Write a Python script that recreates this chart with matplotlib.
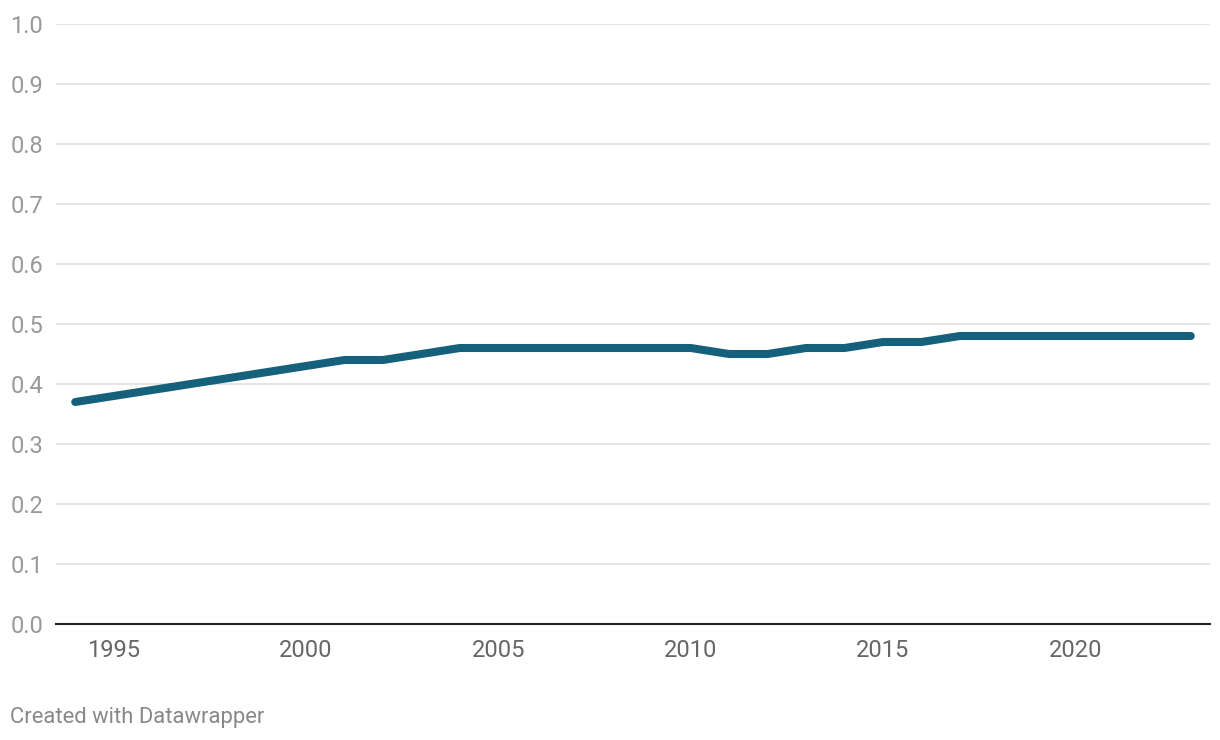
import matplotlib.pyplot as plt
import numpy as np

# Datawrapper-style line chart, one series
years = list(range(1994, 2024))
values = [0.37, 0.38, 0.39, 0.40, 0.41, 0.42, 0.43, 0.44, 0.44, 0.45,
          0.46, 0.46, 0.46, 0.46, 0.46, 0.46, 0.46, 0.45, 0.45, 0.46,
          0.46, 0.47, 0.47, 0.48, 0.48, 0.48, 0.48, 0.48, 0.48, 0.48]
y_ticks = [0.0, 0.1, 0.2, 0.3, 0.4, 0.5, 0.6, 0.7, 0.8, 0.9, 1.0]
x_ticks = [1995, 2000, 2005, 2010, 2015, 2020]

plt.rcParams['font.family'] = ['Roboto', 'DejaVu Sans']

fig = plt.figure(figsize=(12.2, 7.4), dpi=100)
ax = fig.add_axes([56 / 1220, 1 - 624 / 740, (1210 - 56) / 1220, 600 / 740])

ax.plot(years, values, color='#15607a', lw=5.8, solid_capstyle='round',
        solid_joinstyle='round', zorder=3)

ax.set_xlim(1993.5, 2023.5)
ax.set_ylim(0, 1.0)
ax.set_yticks(y_ticks)
ax.set_yticklabels([f'{v:.1f}' for v in y_ticks])
ax.set_xticks(x_ticks)
ax.set_xticklabels([str(x) for x in x_ticks])

for t in ax.get_yticklabels():
    t.set_horizontalalignment('left')
ax.tick_params(axis='y', length=0, pad=33, labelsize=17, labelcolor='#999999')
ax.tick_params(axis='x', length=0, pad=11, labelsize=17, labelcolor='#666666')

ax.grid(axis='y', color='#e3e3e3', lw=1.3)
ax.set_axisbelow(True)
for s in ['left', 'right', 'top']:
    ax.spines[s].set_visible(False)
ax.spines['bottom'].set_color('#222222')
ax.spines['bottom'].set_linewidth(1.5)
ax.spines['bottom'].set_zorder(4)

fig.text(10 / 1220, 1 - 717 / 740, 'Created with Datawrapper', fontsize=15.8,
         color='#888888', va='center', ha='left')

fig.savefig('out.png', dpi=100)
